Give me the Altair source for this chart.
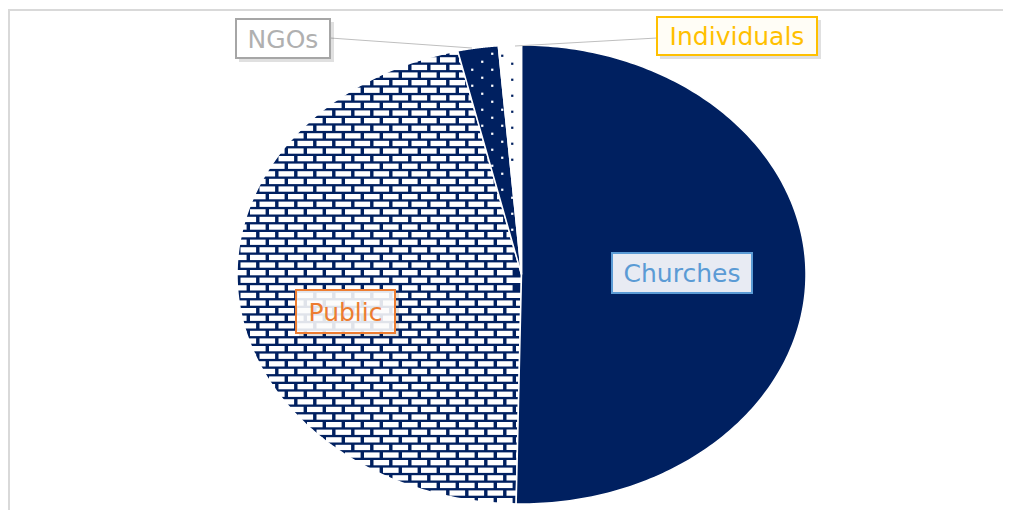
import math
import altair as alt
import pandas as pd

# ---------------- data ----------------
categories = ["Churches", "Public", "NGOs", "Individuals"]
shares = [50.3, 46.1, 2.3, 1.3]

pie_df = pd.DataFrame({"cat": categories, "share": shares, "ord": list(range(len(categories)))})

# ---------------- geometry / style ----------------
W, H = 995, 502
CX, CY = 513.5, 266.5
RX, RY = 284.5, 229.5
NAVY = "#002060"

xs = alt.Scale(domain=[-1, 1], range=[CX - RX, CX + RX])
ys = alt.Scale(domain=[-1, 1], range=[CY + RY, CY - RY])

total = sum(shares)
bounds = {}
c = 0.0
for cat, s in zip(categories, shares):
    bounds[cat] = (2 * math.pi * c / total, 2 * math.pi * (c + s) / total)
    c += s

N = 200


def slice_layer(cat, fill):
    return (
        alt.Chart(pie_df)
        .transform_joinaggregate(total="sum(share)")
        .transform_window(cum="sum(share)", sort=[alt.SortField("ord")], frame=[None, 0])
        .transform_filter(alt.datum.cat == cat)
        .transform_calculate(
            a1="2*PI*datum.cum/datum.total",
            a0="2*PI*(datum.cum-datum.share)/datum.total",
            k=f"sequence(0, {N + 3})",
        )
        .transform_flatten(["k"])
        .transform_calculate(
            t=f"datum.a0 + (datum.a1-datum.a0)*clamp((datum.k-1)/{N}, 0, 1)",
            r=f"(datum.k == 0 || datum.k == {N + 2}) ? 0 : 1",
        )
        .transform_calculate(u="datum.r*sin(datum.t)", v="datum.r*cos(datum.t)")
        .mark_line(fill=fill, stroke="white", strokeWidth=1.5, strokeJoin="miter")
        .encode(
            x=alt.X("u:Q", scale=xs, axis=None),
            y=alt.Y("v:Q", scale=ys, axis=None),
            order=alt.Order("k:Q"),
        )
    )


def texture(cat, rows, cols, rowp, colp, x0, y0, bw, bh, color, kind, margin_a=0.0, rmax=1.0, stagger=True):
    a0, a1 = bounds[cat]
    st = f"(datum.j % 2)*{colp / 2}" if stagger else "0"
    ch = (
        alt.Chart(alt.sequence(0, rows, as_="j"))
        .transform_calculate(i=f"sequence(0, {cols})")
        .transform_flatten(["i"])
        .transform_calculate(
            px0=f"{x0} + datum.i*{colp} + {st}",
            py0=f"{y0} + datum.j*{rowp}",
        )
        .transform_calculate(
            cu=f"(datum.px0 + {bw / 2} - {CX})/{RX}",
            cv=f"({CY} - datum.py0 - {bh / 2})/{RY}",
            u0=f"(datum.px0 - {CX})/{RX}",
            u1=f"(datum.px0 + {bw} - {CX})/{RX}",
            v0=f"({CY} - datum.py0)/{RY}",
            v1=f"({CY} - datum.py0 - {bh})/{RY}",
        )
        .transform_calculate(
            ang="(atan2(datum.cu, datum.cv) + 2*PI) % (2*PI)",
            rr="sqrt(datum.cu*datum.cu + datum.cv*datum.cv)",
        )
        .transform_filter(
            f"datum.rr < {rmax} && datum.ang > {a0 + margin_a} && datum.ang < {a1 - margin_a}"
        )
    )
    if kind == "rect":
        return ch.mark_rect(color=color).encode(
            x=alt.X("u0:Q", scale=xs, axis=None),
            x2="u1:Q",
            y=alt.Y("v0:Q", scale=ys, axis=None),
            y2="v1:Q",
        )
    return ch.mark_square(color=color, size=5, opacity=1).encode(
        x=alt.X("cu:Q", scale=xs, axis=None),
        y=alt.Y("cv:Q", scale=ys, axis=None),
    )


public_fill = slice_layer("Public", NAVY)
bricks = texture("Public", 64, 17, 7.6, 19.0, CX - RX - 6, CY - RY - 3, 15.6, 5.3, "white", "rect",
                 margin_a=-0.15, rmax=1.03)
churches = slice_layer("Churches", NAVY)
ngos = slice_layer("NGOs", NAVY)
ngo_dots = texture("NGOs", 34, 10, 8.0, 20.0, CX - 80, CY - RY, 1.5, 1.5, "white", "dot",
                   margin_a=0.012, rmax=0.97)
indiv = slice_layer("Individuals", "white")
ind_dots = texture("Individuals", 34, 10, 8.0, 20.0, CX - 30, CY - RY + 2, 1.5, 1.5, NAVY, "dot",
                   margin_a=0.008, rmax=0.97)


# ---------------- labels ----------------
def label(cat, box, fill, border, tcolor, fill_opacity=1.0, shadow=True):
    x1, y1, x2, y2 = box
    base = alt.Chart(pie_df).transform_filter(alt.datum.cat == cat)
    layers = []
    if shadow:
        layers.append(
            base.mark_rect(color="#000000", opacity=0.12).encode(
                x=alt.value(x1 + 3), x2=alt.value(x2 + 4), y=alt.value(y1 + 3), y2=alt.value(y2 + 4)
            )
        )
    layers.append(
        base.mark_rect(fill=fill, fillOpacity=fill_opacity, stroke=border, strokeWidth=2).encode(
            x=alt.value(x1), x2=alt.value(x2), y=alt.value(y1), y2=alt.value(y2)
        )
    )
    layers.append(
        base.mark_text(font="DejaVu Sans", fontSize=25, color=tcolor, align="center", baseline="middle").encode(
            x=alt.value((x1 + x2) / 2), y=alt.value((y1 + y2) / 2 + 1), text="cat:N"
        )
    )
    return layers


def leader(xa, ya, xb, yb):
    return alt.Chart(pie_df).transform_filter(alt.datum.ord == 0).mark_rule(
        color="#bfbfbf", strokeWidth=1.2
    ).encode(x=alt.value(xa), y=alt.value(ya), x2=alt.value(xb), y2=alt.value(yb))


frame_top = alt.Chart(pie_df).transform_filter(alt.datum.ord == 0).mark_rule(
    color="#d9d9d9", strokeWidth=2
).encode(x=alt.value(0), x2=alt.value(W), y=alt.value(2), y2=alt.value(2))
frame_left = alt.Chart(pie_df).transform_filter(alt.datum.ord == 0).mark_rule(
    color="#d9d9d9", strokeWidth=2
).encode(x=alt.value(1), x2=alt.value(1), y=alt.value(2), y2=alt.value(H))

layers = [
    frame_top, frame_left,
    public_fill, bricks, churches, ngos, ngo_dots, indiv, ind_dots,
    leader(322, 30, 464, 40),
    leader(649, 30, 507, 38),
]
layers += label("NGOs", (228, 11, 322, 50), "white", "#a6a6a6", "#b0b0b0")
layers += label("Individuals", (649, 9, 809, 47), "#fffdf6", "#ffc000", "#ffc000")
layers += label("Churches", (604, 245, 744, 285), "#e8ebf3", "#5b9bd5", "#5b9bd5", shadow=False)
layers += label("Public", (288, 282, 387, 325), "white", "#ed7d31", "#ed7d31", fill_opacity=0.88)

chart = (
    alt.layer(*layers)
    .properties(width=W, height=H, padding=0, autosize=alt.AutoSizeParams(type="none"), background="white")
    .configure_view(stroke=None)
)

chart.save("out.html", embed_options={"renderer": "svg", "actions": False})
